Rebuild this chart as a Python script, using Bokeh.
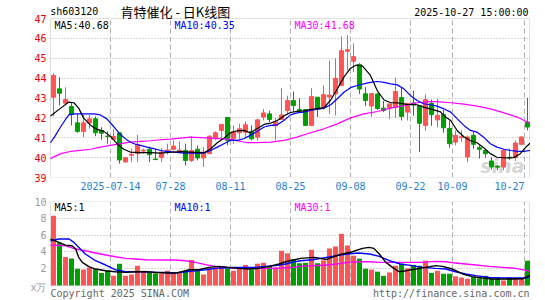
from bokeh.plotting import figure
from bokeh.models import Range1d, FixedTicker, Label, BoxAnnotation
from bokeh.layouts import column
from bokeh.embed import file_html
from bokeh.resources import INLINE

# ---------------- data ----------------
opens = [43.04, 43.46, 42.74, 42.57, 41.75, 41.32, 41.74, 41.95, 41.37, 41.08,
         40.92, 41.25, 39.78, 40.12, 40.20, 40.33, 40.42, 39.93, 40.00, 40.33,
         40.42, 40.33, 40.36, 39.86, 40.42, 39.98, 40.20, 40.95, 41.37, 42.02,
         40.95, 41.25, 41.28, 41.32, 41.03, 42.04, 42.20, 41.60, 41.92, 42.37,
         42.87, 42.42, 42.42, 41.62, 43.04, 42.54, 43.05, 43.20, 43.63, 45.35,
         44.85, 44.68, 43.21, 42.60, 43.20, 42.49, 42.49, 42.54, 43.02, 42.29,
         42.75, 42.62, 41.62, 42.73, 41.90, 42.17, 41.47, 40.78, 41.00, 40.03,
         41.12, 40.50, 40.36, 39.83, 39.57, 39.53, 40.02, 40.00, 40.67, 41.79]
highs = [44.26, 44.04, 43.54, 42.79, 42.20, 42.15, 42.15, 42.07, 41.53, 41.32,
         41.42, 41.25, 40.00, 40.45, 41.15, 40.45, 40.55, 40.42, 40.48, 40.70,
         40.87, 40.82, 40.70, 41.08, 40.60, 40.53, 41.12, 41.32, 41.70, 42.02,
         41.62, 41.70, 41.82, 41.62, 41.95, 42.45, 42.37, 41.99, 43.49, 43.12,
         43.32, 42.99, 42.45, 43.49, 43.05, 43.63, 44.88, 45.00, 46.10, 46.17,
         45.75, 44.75, 43.55, 43.22, 43.25, 42.85, 42.70, 44.02, 43.54, 42.76,
         43.37, 42.62, 43.18, 42.92, 42.95, 42.41, 41.87, 41.37, 41.37, 41.12,
         41.29, 40.62, 40.36, 40.03, 39.62, 40.40, 40.45, 40.87, 41.07, 43.01]
lows = [42.09, 42.62, 42.70, 41.62, 41.25, 41.03, 41.45, 41.08, 40.90, 40.70,
        40.90, 39.70, 39.76, 39.78, 39.78, 40.20, 39.78, 39.88, 39.78, 40.15,
        40.36, 40.25, 39.61, 39.78, 39.86, 39.53, 40.20, 40.87, 40.95, 40.62,
        40.70, 40.95, 41.03, 40.87, 40.87, 41.87, 41.78, 40.87, 41.90, 42.20,
        42.29, 42.25, 41.62, 41.60, 42.04, 42.42, 42.20, 42.12, 43.60, 44.38,
        44.30, 43.20, 42.60, 42.05, 42.40, 42.29, 41.94, 42.00, 41.87, 41.87,
        42.10, 40.28, 41.35, 41.60, 41.53, 41.25, 40.50, 40.62, 40.78, 39.77,
        40.45, 39.95, 40.00, 39.40, 39.36, 39.36, 39.87, 39.83, 40.62, 41.37]
closes = [44.13, 43.24, 42.92, 42.17, 41.32, 41.75, 41.95, 41.25, 41.23, 41.06,
          41.07, 39.88, 40.00, 40.17, 40.65, 40.38, 40.15, 39.90, 40.28, 40.38,
          40.58, 40.38, 39.86, 40.36, 39.98, 40.28, 41.08, 41.25, 41.67, 40.87,
          41.32, 41.45, 41.65, 40.95, 41.90, 42.25, 41.92, 41.80, 42.15, 42.87,
          42.62, 42.37, 41.62, 43.07, 42.45, 43.17, 43.15, 43.99, 45.38, 45.43,
          45.08, 43.45, 42.88, 43.22, 42.47, 42.37, 42.70, 43.33, 42.07, 42.73,
          42.65, 41.73, 42.91, 42.16, 42.13, 41.50, 40.70, 41.12, 41.05, 41.04,
          40.67, 40.42, 40.20, 39.53, 39.52, 40.37, 39.99, 40.73, 41.04, 41.54]
volumes = [8.3, 5.1, 3.4, 3.2, 2.0, 1.9, 2.15, 2.0, 1.5, 1.8,
           1.15, 2.6, 1.15, 1.3, 2.35, 1.75, 1.55, 1.45, 1.45, 1.75,
           1.55, 1.55, 1.75, 3.05, 1.9, 1.3, 2.05, 2.15, 2.3, 2.05,
           1.75, 2.05, 2.45, 1.9, 2.6, 2.7, 2.3, 2.15, 4.15, 3.85,
           3.15, 2.65, 2.7, 4.25, 2.65, 3.0, 4.4, 4.65, 6.15, 4.75,
           3.55, 3.2, 2.0, 1.9, 1.65, 1.15, 1.55, 2.35, 2.6, 2.05,
           2.45, 2.35, 2.95, 1.5, 1.75, 1.4, 1.4, 1.1, 0.95, 0.8,
           1.0, 0.85, 1.15, 0.8, 0.85, 0.6, 0.95, 0.8, 0.8, 2.95]
red_up = [c >= o for o, c in zip(opens, closes)]

date_tick_idx = [10, 20, 30, 40, 50, 60, 67, 79]
date_tick_labels = ["2025-07-14", "07-28", "08-11", "08-25", "09-08", "09-22", "10-09", "10-27"]
price_ticks = [39, 40, 41, 42, 43, 44, 45, 46, 47]
vol_ticks = [2, 4, 6, 8, 10]
vol_unit = "x万"

# moving-average lines (candle index, value)
ma5_i = [-0.5, 1.2, 2.5, 3.4, 4.2, 5, 6.2, 7.3, 8.4, 9.5, 10.6, 11.7, 12.8, 14.5, 16.2, 17.8, 19.5, 21.2, 22.8,
         25.1, 26.2, 27.3, 28.4, 29.5, 30.6, 31.7, 32.8, 33.9, 35.1, 36.2, 37.3, 38.4, 39.5, 40.6, 41.7, 42.8,
         43.9, 45.1, 46.2, 47.3, 48.4, 49.5, 50.5, 51.5, 52.8, 54.0, 55.1, 56.2, 57.5, 58.9, 60.6, 61.7, 63.4,
         64.5, 65.1, 66.2, 67.3, 68.4, 69.5, 70.6, 71.7, 72.8, 73.9, 75.6, 76.7, 77.8, 78.8, 79.42]
ma5_v = [42.09, 42.49, 42.79, 42.76, 42.49, 42.0, 41.62, 41.42, 41.32, 41.07, 40.7, 40.42, 40.28, 40.25, 40.25,
         40.23, 40.27, 40.3, 40.28, 40.25, 40.45, 40.75, 40.98, 41.25, 41.35, 41.37, 41.25, 41.45, 41.67, 41.74,
         41.87, 42.1, 42.27, 42.33, 42.35, 42.42, 42.47, 42.52, 42.9, 43.45, 44.05, 44.5, 44.66, 44.6, 44.15,
         43.35, 42.9, 42.76, 42.75, 42.68, 42.66, 42.54, 42.4, 42.3, 42.1, 41.87, 41.35, 41.05, 40.85, 40.75,
         40.5, 40.2, 40.02, 39.98, 40.0, 40.2, 40.55, 40.72]
ma10_i = [-0.5, 0.33, 1.17, 2.0, 2.56, 3.4, 4.5, 5.6, 6.7, 7.8, 8.9, 10.1, 11.2, 12.3, 13.4, 14.5, 15.6, 16.7,
          17.8, 18.9, 20.1, 21.7, 23.9, 25.1, 26.2, 27.3, 28.4, 29.5, 30.6, 31.7, 32.8, 33.9, 35.1, 36.2, 37.3,
          38.4, 39.5, 40.6, 41.7, 42.8, 43.9, 45.1, 46.2, 47.3, 48.4, 49.5, 50.6, 51.7, 52.8, 54.0, 55.1, 56.2,
          57.3, 58.4, 59.5, 60.6, 61.7, 62.8, 63.9, 65.1, 66.2, 67.3, 68.4, 69.5, 70.6, 71.7, 72.8, 73.9, 75.1,
          76.2, 77.3, 78.4, 79.42]
ma10_v = [40.75, 41.12, 41.54, 41.92, 42.15, 42.2, 42.2, 42.2, 42.2, 42.15, 41.95, 41.54, 41.15, 40.87, 40.7,
          40.62, 40.53, 40.45, 40.36, 40.31, 40.28, 40.23, 40.23, 40.23, 40.36, 40.53, 40.7, 40.87, 40.87, 40.95,
          41.12, 41.32, 41.54, 41.62, 41.65, 41.87, 42.15, 42.25, 42.29, 42.37, 42.42, 42.49, 42.66, 42.96,
          43.29, 43.52, 43.63, 43.71, 43.79, 43.83, 43.79, 43.71, 43.66, 43.46, 43.12, 42.87, 42.71, 42.66,
          42.59, 42.45, 42.29, 41.95, 41.62, 41.37, 41.28, 41.03, 40.7, 40.53, 40.42, 40.36, 40.31, 40.31, 40.36]
ma30_i = [-0.5, 1.2, 2.8, 4.5, 6.2, 7.8, 9.5, 11.2, 12.8, 14.5, 16.2, 17.8, 19.5, 22.8, 26.2, 29.5, 32.3, 33.9,
          36.2, 38.4, 40.6, 42.8, 45.1, 47.3, 49.5, 51.7, 54.0, 56.2, 58.4, 60.6, 62.8, 63.9, 66.2, 68.4, 70.6,
          72.8, 75.1, 77.3, 79.42]
ma30_v = [39.95, 40.2, 40.31, 40.36, 40.42, 40.53, 40.62, 40.7, 40.78, 40.82, 40.85, 40.9, 40.93, 41.03, 40.98,
          40.92, 40.75, 40.75, 40.78, 40.87, 41.03, 41.25, 41.45, 41.7, 42.0, 42.2, 42.32, 42.49, 42.62, 42.76,
          42.82, 42.82, 42.76, 42.69, 42.59, 42.45, 42.25, 42.04, 41.72]

vma5_i = [-0.5, 0.9, 2.0, 3.1, 3.7, 4.2, 4.8, 5.9, 7.0, 8.7, 10.3, 12.0, 13.7, 15.3, 17.0, 18.7, 20.3, 21.4, 22.6,
          24.2, 25.9, 27.6, 29.2, 30.9, 32.6, 34.2, 35.9, 37.6, 38.7, 39.8, 41.2, 43.5, 45.5, 47.5, 49.8, 51.5,
          52.6, 53.4, 54.3, 55.4, 56.5, 57.6, 58.7, 60.4, 62.0, 63.7, 64.8, 66.5, 68.2, 69.8, 71.5, 73.2, 74.9,
          76.5, 78.2, 79.42]
vma5_v = [5.53, 5.13, 4.8, 4.74, 4.34, 3.35, 2.75, 2.24, 1.96, 1.76, 1.64, 1.56, 1.64, 1.64, 1.56, 1.48, 1.48,
          1.64, 1.88, 1.88, 2.16, 2.28, 2.16, 2.04, 1.96, 2.04, 2.28, 2.56, 2.83, 3.0, 3.23, 3.35, 3.1, 3.63,
          4.02, 4.42, 4.54, 4.42, 3.75, 2.75, 2.16, 1.64, 1.76, 1.96, 2.16, 2.36, 2.28, 1.96, 1.37, 1.05, 0.89,
          0.77, 0.77, 0.77, 0.8, 1.2]
vma10_i = [-0.5, 0.9, 2.6, 3.4, 4.2, 5.3, 7.0, 8.7, 10.3, 12.0, 15.3, 17.0, 18.7, 20.3, 22.0, 23.7, 25.3, 27.0,
           28.7, 30.3, 33.7, 35.3, 37.0, 38.7, 40.0, 41.2, 43.2, 45.5, 47.2, 49.0, 50.8, 52.7, 54.3, 56.0, 57.8,
           59.8, 61.5, 63.7, 65.4, 67.0, 68.7, 70.4, 72.6, 74.8, 77.0, 78.8, 79.42]
vma10_v = [5.33, 5.53, 5.53, 5.13, 4.54, 3.75, 2.95, 2.44, 1.88, 1.64, 1.64, 1.56, 1.56, 1.48, 1.64, 1.76, 1.88,
           2.04, 2.12, 2.16, 2.16, 2.28, 2.36, 2.56, 2.8, 2.95, 3.07, 3.35, 3.55, 3.75, 3.87, 3.75, 3.47, 2.95,
           2.56, 2.36, 2.16, 2.04, 1.96, 1.64, 1.37, 1.17, 0.97, 0.89, 0.89, 0.9, 1.05]
vma30_i = [-0.5, 2.0, 3.7, 5.3, 7.0, 8.7, 10.3, 12.0, 13.7, 15.3, 18.7, 20.3, 22.0, 23.7, 25.3, 27.0, 28.7, 30.3,
           37.0, 38.7, 40.0, 41.2, 43.2, 45.5, 47.2, 49.0, 50.8, 52.7, 54.3, 61.5, 63.7, 65.4, 67.0, 68.7, 70.4,
           72.6, 74.8, 77.0, 78.8, 79.42]
vma30_v = [4.81, 4.74, 4.34, 4.14, 3.87, 3.63, 3.43, 3.23, 3.15, 3.07, 3.03, 3.03, 2.95, 2.75, 2.48, 2.28, 2.16,
           2.04, 2.04, 2.12, 2.16, 2.28, 2.36, 2.44, 2.56, 2.75, 2.83, 2.83, 2.75, 2.75, 2.87, 2.83, 2.67, 2.56,
           2.44, 2.28, 2.16, 2.04, 1.8, 1.65]

# ---------------- styling ----------------
RED = "#ff5454"
GREEN = "#009f00"
GRID = "#b0b0b0"
FRAME = "#999999"
MONO = "DejaVu Sans Mono"
n = len(closes)
xs = [i + 0.5 for i in range(n)]
cols = [RED if u else GREEN for u in red_up]
XEND = 479 / 6                      # right border of the panels
XR = Range1d(-1 / 6, 480 / 6)       # one pixel of slack on each side of the border box


def base(height, top, bottom, yr, box_lo, box_hi):
    f = figure(width=545, height=height, x_range=XR, y_range=yr, output_backend="svg",
               toolbar_location=None, min_border_left=49, min_border_right=15,
               min_border_top=top, min_border_bottom=bottom)
    f.background_fill_color = "white"
    f.border_fill_color = "white"
    f.outline_line_color = None
    f.xgrid.ticker = FixedTicker(ticks=date_tick_idx)
    f.xgrid.grid_line_color = GRID
    f.xgrid.grid_line_dash = "5 3"
    f.xgrid.cross_bounds = (box_lo, box_hi)
    f.ygrid.grid_line_color = GRID
    f.ygrid.grid_line_dash = "1 2"
    f.add_layout(BoxAnnotation(left=0, right=XEND, bottom=box_lo, top=box_hi, fill_color=None,
                               line_color=FRAME, line_width=1, level="underlay"))
    for ax in f.yaxis:
        ax.axis_line_color = None
        ax.major_tick_line_color = None
        ax.minor_tick_line_color = None
        ax.major_tick_out = 0
        ax.major_tick_in = 0
        ax.major_label_standoff = 3
        ax.major_label_text_font = MONO
        ax.major_label_text_font_size = "10px"
    return f


# ---------------- price panel (frame reaches the top of the page) ----------------
PX1 = 19.875                      # pixels per price unit
p1 = base(196, 0, 19, Range1d(39, 39 + 177 / PX1), 39, 47)
p1.ygrid.ticker = FixedTicker(ticks=price_ticks[1:-1])
p1.yaxis.ticker = FixedTicker(ticks=price_ticks)
p1.yaxis.major_label_text_color = "#ee0000"
ax = p1.xaxis[0]
label_pos = date_tick_idx[:-1] + [76.5]
ax.ticker = FixedTicker(ticks=label_pos)
ax.major_label_overrides = {t: s for t, s in zip(label_pos, date_tick_labels)}
ax.axis_line_color = None
ax.major_tick_line_color = None
ax.minor_tick_line_color = None
ax.major_tick_out = 0
ax.major_tick_in = 0
ax.major_label_standoff = 4
ax.major_label_text_font = MONO
ax.major_label_text_font_size = "10px"
ax.major_label_text_color = "#1f7fd4"

p1.add_layout(Label(x=79.0, y=39.03, text="sina", text_font="DejaVu Sans", text_font_size="19px",
                    text_font_style="bold italic", text_color="#cccccc", text_alpha=0.8,
                    text_align="right", text_baseline="bottom", level="underlay"))

p1.segment(x0=xs, y0=lows, x1=xs, y1=highs, line_color=cols, line_width=1)
p1.vbar(x=xs, width=0.68, top=[max(o, c) for o, c in zip(opens, closes)],
        bottom=[min(o, c) for o, c in zip(opens, closes)], fill_color=cols, line_color=cols, line_width=1)
p1.line([i + 0.5 for i in ma30_i], ma30_v, line_color="#ff00ff", line_width=1.2)
p1.line([i + 0.5 for i in ma10_i], ma10_v, line_color="#0000ff", line_width=1.2)
p1.line([i + 0.5 for i in ma5_i], ma5_v, line_color="#000000", line_width=1.2)

yhdr = 47 - 7 / PX1
for xx, txt, c in [(0.67, "MA5:40.68", "#000000"), (20.67, "MA10:40.35", "#0000ff"),
                   (40.67, "MA30:41.68", "#ff00ff")]:
    p1.add_layout(Label(x=xx, y=yhdr, text=txt, text_color=c, text_font=MONO, text_font_size="10px",
                        text_baseline="middle", text_align="left"))

p1.add_layout(Label(x=-0.05, y=47 + 7 / PX1, text="sh603120", text_font=MONO, text_font_size="10px",
                    text_baseline="middle", text_align="left", text_color="#000000"))
p1.add_layout(Label(x=11.67, y=47 + 7.5 / PX1, text="肯特催化 - 日K线图", text_font="Noto Sans CJK SC",
                    text_font_size="13px", text_baseline="middle", text_align="left", text_color="#000000"))
p1.add_layout(Label(x=79.67, y=47 + 6 / PX1, text="2025-10-27 15:00:00", text_font=MONO, text_font_size="10px",
                    text_baseline="middle", text_align="right", text_color="#000000"))

# ---------------- volume panel (frame reaches the bottom of the page) ----------------
PX2 = 8.4                         # pixels per volume unit
p2 = base(104, 5, 0, Range1d(10 - 99 / PX2, 10), 0, 10)
p2.ygrid.ticker = FixedTicker(ticks=vol_ticks[:-1])
unit_pos = -1.5 / PX2
p2.yaxis.ticker = FixedTicker(ticks=[unit_pos] + vol_ticks)
p2.yaxis.major_label_overrides = {unit_pos: vol_unit}
p2.yaxis.major_label_text_color = "#9a9a9a"
p2.xaxis.visible = False

p2.vbar(x=xs, width=0.83, top=volumes, bottom=0, fill_color=cols, line_color=None)
p2.line([i + 0.5 for i in vma30_i], vma30_v, line_color="#ff00ff", line_width=1.4)
p2.line([i + 0.5 for i in vma10_i], vma10_v, line_color="#0000ff", line_width=1.4)
p2.line([i + 0.5 for i in vma5_i], vma5_v, line_color="#000000", line_width=1.4)

yv = 10 - 5.7 / PX2
for xx, txt, c in [(0.67, "MA5:1", "#000000"), (20.67, "MA10:1", "#0000ff"), (40.67, "MA30:1", "#ff00ff")]:
    p2.add_layout(Label(x=xx, y=yv, text=txt, text_color=c, text_font=MONO, text_font_size="10px",
                        text_baseline="middle", text_align="left"))

yfoot = -7.5 / PX2
p2.add_layout(Label(x=0.0, y=yfoot, text="Copyright 2025 SINA.COM", text_font=MONO, text_font_size="10px",
                    text_baseline="middle", text_align="left", text_color="#666666"))
p2.add_layout(Label(x=XEND, y=yfoot, text="http://finance.sina.com.cn", text_font=MONO,
                    text_font_size="10px", text_baseline="middle", text_align="right", text_color="#666666"))

layout = column(p1, p2, spacing=0)
open("out.html", "w").write(file_html(layout, INLINE))
